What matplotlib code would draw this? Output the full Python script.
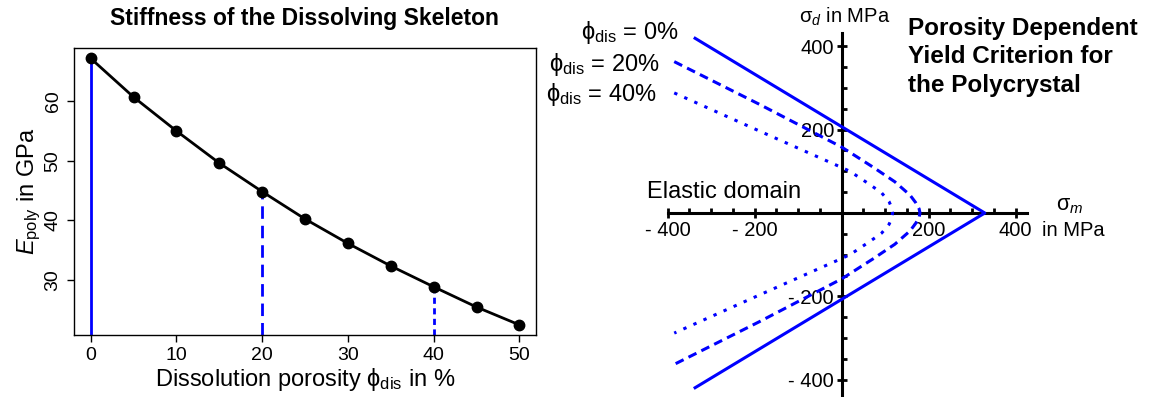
import numpy as np
import matplotlib
matplotlib.use('Agg')
import matplotlib.pyplot as plt

plt.rcParams['font.family'] = ['Liberation Sans', 'DejaVu Sans']
plt.rcParams['mathtext.fontset'] = 'custom'
plt.rcParams['mathtext.rm'] = 'Liberation Sans'
plt.rcParams['mathtext.it'] = 'Liberation Sans:italic'

# left panel: stiffness vs dissolution porosity
porosity = [0, 5, 10, 15, 20, 25, 30, 35, 40, 45, 50]
E_poly = [67.2, 60.7, 55.0, 49.6, 44.8, 40.2, 36.1, 32.3, 28.8, 25.4, 22.4]
marked = [0, 20, 40]

# right panel: upper branch of the yield surfaces (sigma_m, sigma_d) in MPa
sm_0 = [-337, 329]
sd_0 = [419, 0]
sm_20 = [-385, -188, 0, 72, 122, 157, 170, 178, 180]
sd_20 = [363, 260, 158, 110, 75, 43, 25, 10, 0]
sm_40 = [-385, -190, -15, 19, 65, 92, 109, 114, 117]
sd_40 = [288, 197, 116, 100, 68, 48, 27, 15, 0]

blue = '#0000ff'
styles = ['-', (0, (2.9, 1.8)), (0, (1.1, 2.5))]
vstyles = ['-', (0, (4.5, 2.5)), (0, (2.2, 1.6))]
phi = 'ϕ'

fig = plt.figure(figsize=(11.63, 3.97), dpi=100)

# ---- left
ax = fig.add_axes([74/1163, 1-335/397, (535.7-74)/1163, (335-47.7)/397])
ax.set_xlim(-1.95, 51.9)
ax.set_ylim(20.7, 69)
for p, ls in zip(marked, vstyles):
    e = E_poly[porosity.index(p)]
    ax.plot([p, p], [20.7, e], color=blue, lw=2, ls=ls)
ax.plot(porosity, E_poly, color='black', lw=2, marker='o', ms=7.5)
ax.set_xticks([0, 10, 20, 30, 40, 50])
ax.set_yticks([30, 40, 50, 60])
ax.set_yticklabels(['30', '40', '50', '60'], rotation=90, va='center')
ax.tick_params(labelsize=14, length=5, width=1, pad=4)
for s in ax.spines.values():
    s.set_linewidth(1)
ax.set_xlabel('Dissolution porosity ' + phi + '$_{\\mathrm{dis}}$ in %', fontsize=17, labelpad=1)
ax.set_ylabel('$E_{\\mathrm{poly}}$ in GPa', fontsize=17, labelpad=1)
ax.set_title('Stiffness of the Dissolving Skeleton', fontsize=16.5, fontweight='bold', pad=16)

# ---- right
x0, y0, kx, ky = 841.7, 213, 0.435, 0.417
left_px, right_px, top_px = 650, 1040, 30
ax2 = fig.add_axes([left_px/1163, 0, (right_px-left_px)/1163, (397-top_px)/397])
ax2.set_xlim((left_px-x0)/kx, (right_px-x0)/kx)
ax2.set_ylim((y0-397)/ky, (y0-top_px)/ky)
ax2.patch.set_alpha(0)

for sm, sd, ls in zip([sm_0, sm_20, sm_40], [sd_0, sd_20, sd_40], styles):
    sm = np.array(sm, dtype=float)
    sd = np.array(sd, dtype=float)
    m = np.concatenate([sm, sm[::-1][1:]])
    d = np.concatenate([sd, -sd[::-1][1:]])
    ax2.plot(m, d, color=blue, lw=2.2, ls=ls, dash_capstyle='butt')

ax2.spines['top'].set_visible(False)
ax2.spines['right'].set_visible(False)
ax2.spines['left'].set_position(('data', 0))
ax2.spines['bottom'].set_position(('data', 0))
ax2.spines['left'].set_bounds(-445, 432)
ax2.spines['bottom'].set_bounds(-400, 427)
ax2.spines['left'].set_linewidth(2.2)
ax2.spines['bottom'].set_linewidth(2.2)
ax2.spines['left'].set_zorder(0.5)
ax2.spines['bottom'].set_zorder(0.5)

ax2.set_xticks([-400, -200, 200, 400])
ax2.set_xticklabels(['- 400', '- 200', '200', '400'])
ax2.set_xticks(np.arange(-400, 401, 50), minor=True)
ax2.set_yticks([-400, -200, 200, 400])
ax2.set_yticklabels(['- 400', '- 200', '200', '400'])
ax2.set_yticks(np.arange(-400, 401, 50), minor=True)
ax2.tick_params(which='major', direction='inout', length=7, width=2, labelsize=14.5, pad=2)
ax2.tick_params(which='minor', direction='in', length=3.5, width=2)

ax2.text(7, 470, 'σ$_{d}$ in MPa', fontsize=14.5, ha='center', va='center', clip_on=False)
ax2.text(525, 19, 'σ$_{m}$', fontsize=15.5, ha='center', va='center', clip_on=False)
ax2.text(460, -41, 'in MPa', fontsize=14.5, ha='left', va='center', clip_on=False)
ax2.text(-447, 50, 'Elastic domain', fontsize=17, ha='left', va='center', clip_on=False)

leg_labels = [phi + '$_{\\mathrm{dis}}$ = 0%', phi + '$_{\\mathrm{dis}}$ = 20%', phi + '$_{\\mathrm{dis}}$ = 40%']
leg_pos = [(-376, 432), (-418, 357), (-425, 283)]
for lab, (px, py) in zip(leg_labels, leg_pos):
    ax2.text(px, py, lab, fontsize=17, ha='right', va='center', clip_on=False)

fig.text(908/1163, 1-17/397, 'Porosity Dependent\nYield Criterion for\nthe Polycrystal',
         fontsize=17.5, fontweight='bold', ha='left', va='top', linespacing=1.3)

fig.savefig('out.png', dpi=100)
